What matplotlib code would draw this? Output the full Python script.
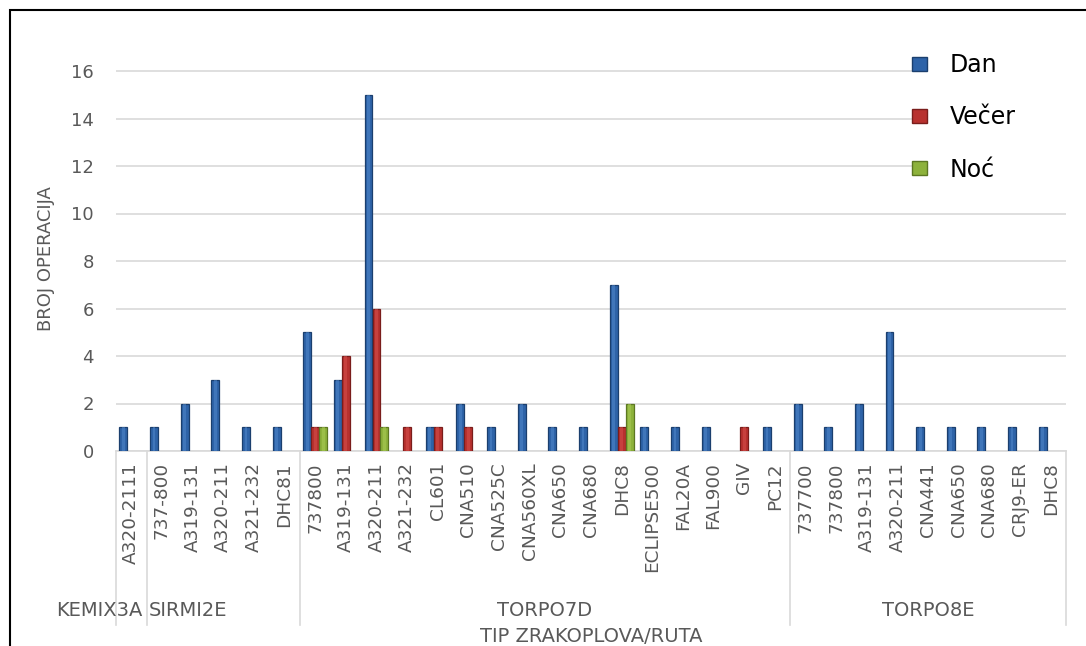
import numpy as np
import matplotlib
matplotlib.use("Agg")
import matplotlib.pyplot as plt
from matplotlib.patches import Rectangle
import matplotlib.transforms as mtransforms

# ---------------- data ----------------
routes = ["KEMIX3A", "SIRMI2E", "TORPO7D", "TORPO8E"]
kemix_types = ["A320-2111"]
sirmi_types = ["737-800", "A319-131", "A320-211", "A321-232", "DHC81"]
torpo7d_types = ["737800", "A319-131", "A320-211", "A321-232", "CL601", "CNA510",
                 "CNA525C", "CNA560XL", "CNA650", "CNA680", "DHC8", "ECLIPSE500",
                 "FAL20A", "FAL900", "GIV", "PC12"]
torpo8e_types = ["737700", "737800", "A319-131", "A320-211", "CNA441", "CNA650",
                 "CNA680", "CRJ9-ER", "DHC8"]

dan = [1,
       1, 2, 3, 1, 1,
       5, 3, 15, 0, 1, 2, 1, 2, 1, 1, 7, 1, 1, 1, 0, 1,
       2, 1, 2, 5, 1, 1, 1, 1, 1]
vecer = [0,
         0, 0, 0, 0, 0,
         1, 4, 6, 1, 1, 1, 0, 0, 0, 0, 1, 0, 0, 0, 1, 0,
         0, 0, 0, 0, 0, 0, 0, 0, 0]
noc = [0,
       0, 0, 0, 0, 0,
       1, 0, 1, 0, 0, 0, 0, 0, 0, 0, 2, 0, 0, 0, 0, 0,
       0, 0, 0, 0, 0, 0, 0, 0, 0]

series_names = ["Dan", "Večer", "Noć"]
y_ticks = [0, 2, 4, 6, 8, 10, 12, 14, 16]

# ---------------- layout ----------------
W, H = 1086, 646
fig = plt.figure(figsize=(W / 100, H / 100), dpi=100)
fig.patch.set_facecolor("white")

ax_l, ax_r, ax_b, ax_t = 116, 1066, 451, 66.25
ax = fig.add_axes([ax_l / W, 1 - ax_b / H, (ax_r - ax_l) / W, (ax_b - ax_t) / H])

groups = [kemix_types, sirmi_types, torpo7d_types, torpo8e_types]
categories = [c for g in groups for c in g]
n = len(categories)
x = np.arange(n)

gray_txt = "#595959"
grid_col = "#D9D9D9"

face = ["#2E63A8", "#B8312F", "#8DB23B"]
edge = ["#1B3F6E", "#7A1D1B", "#5C7722"]
hi = ["#4F86C9", "#D4504C", "#A9CB55"]
bw = 0.26
offsets = [-bw, 0, bw]

for vals, off, fc, ec, hc, name in zip([dan, vecer, noc], offsets, face, edge, hi, series_names):
    v = np.array(vals, dtype=float)
    m = v > 0
    ax.bar(x[m] + off, v[m], width=bw, color=fc, edgecolor=ec, linewidth=0.9, zorder=3)
    ax.bar(x[m] + off, v[m], width=bw * 0.35, color=hc, linewidth=0, alpha=0.55, zorder=3.5)
    # legend proxy
    ax.bar([0], [0], width=0, color=fc, edgecolor=ec, label=name)

ax.set_xlim(-0.5, n - 0.5)
ax.set_ylim(0, 16.2)
ax.set_yticks(y_ticks)
ax.set_yticklabels([str(t) for t in y_ticks])
ax.yaxis.grid(True, color=grid_col, linewidth=1.2)
ax.set_axisbelow(True)
for s in ["top", "right", "left"]:
    ax.spines[s].set_visible(False)
ax.spines["bottom"].set_color(grid_col)
ax.spines["bottom"].set_linewidth(1.2)

ax.tick_params(axis="y", length=0, pad=16, labelsize=13, labelcolor=gray_txt)
ax.set_xticks(x)
ax.set_xticklabels(categories, rotation=90, fontsize=13.3, color=gray_txt)
ax.tick_params(axis="x", length=0, pad=8)

ax.set_ylabel("BROJ OPERACIJA", fontsize=13, color=gray_txt)
ax.yaxis.set_label_coords((55 - ax_l) / (ax_r - ax_l), (ax_b - 259) / (ax_b - ax_t))

ax.set_xlabel("TIP ZRAKOPLOVA/RUTA", fontsize=14, color=gray_txt)
ax.xaxis.set_label_coords(0.5, (ax_b - 627) / (ax_b - ax_t))

# multi-level axis separators
trans = mtransforms.blended_transform_factory(ax.transData, ax.transAxes)
bounds = np.cumsum([0] + [len(g) for g in groups]) - 0.5
y_low = (ax_b - 625) / (ax_b - ax_t)
for b in bounds:
    ax.plot([b, b], [0, y_low], color=grid_col, linewidth=1.2, transform=trans, clip_on=False)

y_grp = (ax_b - 611) / (ax_b - ax_t)
ax.text(0.35, y_grp, routes[0], transform=trans, ha="right", va="center",
        fontsize=14, color=gray_txt)
ax.text(0.58, y_grp, routes[1], transform=trans, ha="left", va="center",
        fontsize=14, color=gray_txt)
for i in (2, 3):
    c = (bounds[i] + bounds[i + 1]) / 2
    ax.text(c, y_grp, routes[i], transform=trans, ha="center", va="center",
            fontsize=14, color=gray_txt)

# white area behind legend
ax.add_patch(Rectangle((26.0, 10.9), 4.6, 6.0, facecolor="white", edgecolor="none",
                       zorder=1.5, clip_on=False))

leg = ax.legend(loc="upper left", bbox_to_anchor=(912 / W, 1 - 53 / H),
                bbox_transform=fig.transFigure, frameon=False, fontsize=17,
                handlelength=0.64, handleheight=0.55, handletextpad=0.97,
                labelspacing=1.2, borderpad=0, borderaxespad=0)
for t in leg.get_texts():
    t.set_color("black")

# outer frame
fig.add_artist(Rectangle((10 / W, -0.1), 1.2, 1 - 10 / H + 0.1, transform=fig.transFigure,
                         facecolor="none", edgecolor="black", linewidth=1.5))

fig.savefig("out.png", dpi=100)
